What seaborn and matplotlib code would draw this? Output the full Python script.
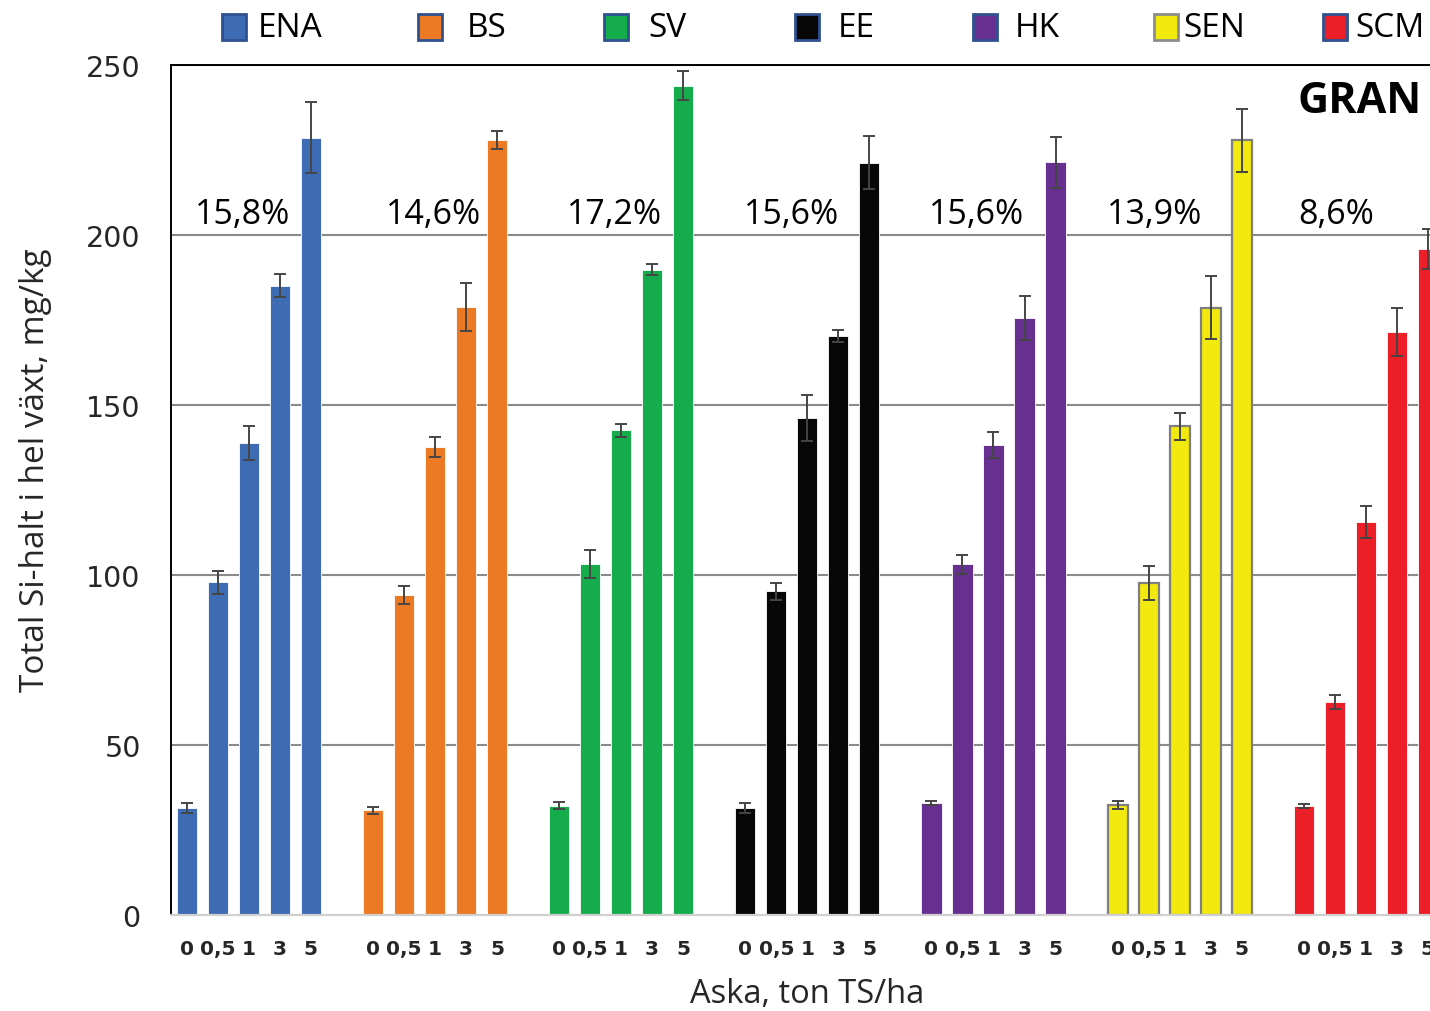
import numpy as np
import pandas as pd
import seaborn as sns
import matplotlib
matplotlib.use("Agg")
import matplotlib.pyplot as plt
from matplotlib.patches import Rectangle

# ---- data -------------------------------------------------------------
groups = ["ENA", "BS", "SV", "EE", "HK", "SEN", "SCM"]
doses = ["0", "0,5", "1", "3", "5"]

ena_mean = [31.5, 97.8, 138.9, 185.1, 228.6]
ena_err = [1.4, 3.4, 5.0, 3.4, 10.5]
bs_mean = [30.8, 94.1, 137.7, 178.8, 228.0]
bs_err = [1.1, 2.6, 2.9, 7.1, 2.6]
sv_mean = [32.1, 103.2, 142.6, 189.8, 243.9]
sv_err = [1.0, 4.2, 1.9, 1.7, 4.3]
ee_mean = [31.5, 95.2, 146.2, 170.3, 221.3]
ee_err = [1.5, 2.5, 6.8, 1.9, 7.7]
hk_mean = [33.0, 103.2, 138.2, 175.6, 221.4]
hk_err = [0.5, 2.8, 3.8, 6.5, 7.5]
sen_mean = [32.4, 97.6, 143.7, 178.6, 227.8]
sen_err = [1.2, 5.0, 4.0, 9.2, 9.4]
scm_mean = [32.1, 62.6, 115.6, 171.5, 195.9]
scm_err = [0.6, 2.0, 4.7, 7.0, 5.9]

pct_labels = ["15,8%", "14,6%", "17,2%", "15,6%", "15,6%", "13,9%", "8,6%"]

colors = ["#3D6CB5", "#EC7A24", "#15AD4C", "#070707", "#673090", "#F2E90F", "#EC1E27"]

means = [ena_mean, bs_mean, sv_mean, ee_mean, hk_mean, sen_mean, scm_mean]
errs = [ena_err, bs_err, sv_err, ee_err, hk_err, sen_err, scm_err]

# one slot per bar, with an empty slot between groups
rows = []
for gi, g in enumerate(groups):
    for di, d in enumerate(doses):
        rows.append({"pos": gi * 6 + di, "series": g, "dose": d,
                     "value": means[gi][di], "err": errs[gi][di]})
df = pd.DataFrame(rows)

# ---- figure -----------------------------------------------------------
sns.set_theme(style="white")
plt.rcParams["font.family"] = ["DejaVu Sans"]
sans = ["Open Sans", "DejaVu Sans"]

W, H = 1430, 1012
fig = plt.figure(figsize=(W / 100, H / 100), dpi=100)
slot = 31.03
x0 = 186.7 - 0.5 * slot
x1 = 186.7 + 40.5 * slot
ax = fig.add_axes([x0 / W, 96 / H, (x1 - x0) / W, 850 / H])

sns.barplot(data=df, x="pos", y="value", hue="series", hue_order=groups,
            palette=colors, saturation=1, native_scale=True, dodge=False,
            width=0.65, errorbar=None, legend=False, ax=ax, zorder=2)

for gi, cont in enumerate(ax.containers):
    for p in cont.patches:
        if groups[gi] == "SEN":
            p.set_edgecolor("#7f7f7f")
            p.set_linewidth(1.6)
        else:
            p.set_edgecolor("white")
            p.set_linewidth(0.6)

ax.errorbar(df["pos"], df["value"], yerr=df["err"], fmt="none",
            ecolor="#454545", elinewidth=1.4, capsize=4.3, capthick=1.4,
            zorder=3)

ax.set_xlim(-0.5, 40.5)
ax.set_ylim(0, 250)
ax.set_yticks([0, 50, 100, 150, 200, 250])
ax.set_yticklabels(["0", "50", "100", "150", "200", "250"], fontsize=20.5)
ax.set_xticks(df["pos"])
ax.set_xticklabels(df["dose"], fontsize=14.5, fontweight="bold")
ax.tick_params(axis="x", length=0, pad=17)
ax.tick_params(axis="y", length=0, pad=22)

ax.yaxis.grid(True, color="#8a8a8a", linewidth=1.5)
ax.set_axisbelow(True)
ax.yaxis.get_gridlines()[0].set_visible(False)

for side in ["top", "left"]:
    ax.spines[side].set_color("black")
    ax.spines[side].set_linewidth(1.4)
ax.spines["bottom"].set_color("#d0d0d0")
ax.spines["bottom"].set_linewidth(1.6)
ax.spines["right"].set_visible(False)

ax.set_xlabel("Aska, ton TS/ha", fontsize=23.5, family=sans, labelpad=14)
ax.set_ylabel("Total Si-halt i hel växt, mg/kg", fontsize=24, family=sans)
ax.yaxis.set_label_coords(-0.094, 0.525)

# share labels above each group
pct_offsets = [1.81, 1.94, 1.8, 1.5, 1.44, 1.2, 1.04]
for gi, lab in enumerate(pct_labels):
    ax.text(gi * 6 + pct_offsets[gi], 206.2, lab, ha="center", va="center",
            fontsize=24.5, family=sans, color="black")

ax.text(39.8, 239.7, "GRAN", ha="right", va="center", fontsize=31,
        fontweight="bold", family=sans, color="black")

# legend row across the top
leg_square_x = [222, 418, 604, 795, 973, 1154, 1323]
leg_text_x = [258, 467, 648, 838, 1015, 1183, 1355]
for gi, g in enumerate(groups):
    edge = "#8c8c8c" if g == "SEN" else "#2F528F"
    fig.add_artist(Rectangle((leg_square_x[gi] / W, 1 - 41 / H), 24 / W, 26 / H,
                             transform=fig.transFigure, facecolor=colors[gi],
                             edgecolor=edge, linewidth=2))
    fig.text(leg_text_x[gi] / W, 1 - 29 / H, g, ha="left", va="center",
             fontsize=24, family=sans, color="black")

fig.savefig("out.png", dpi=100)
